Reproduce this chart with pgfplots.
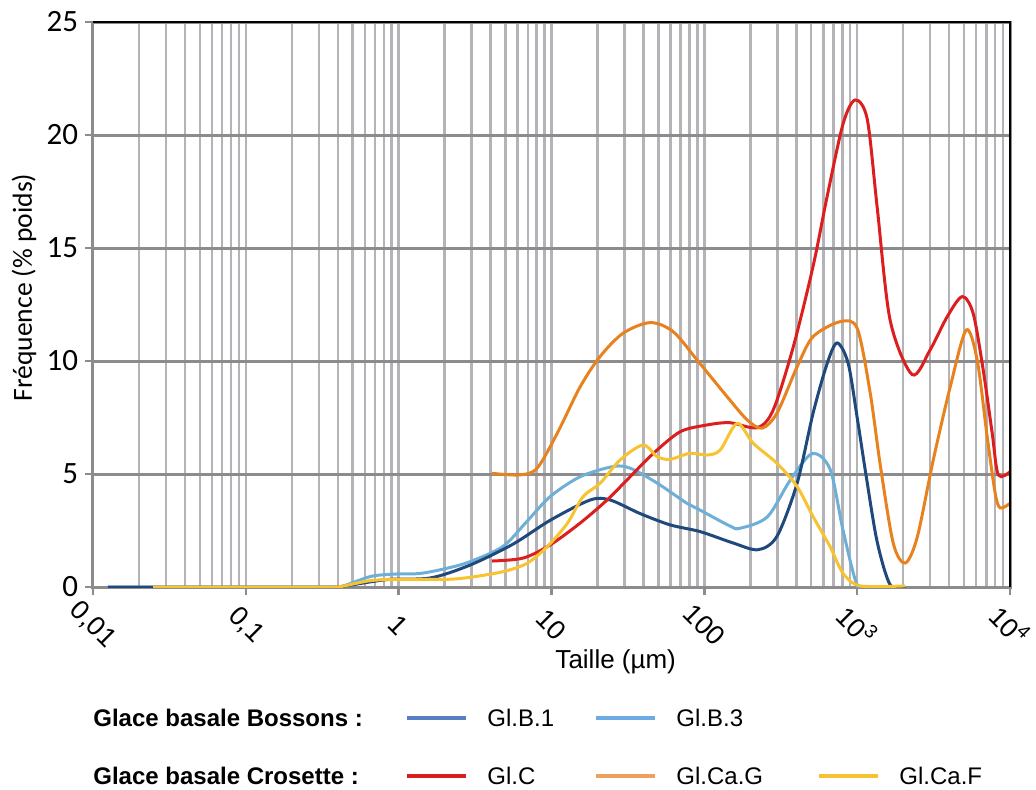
\documentclass[border=0pt]{standalone}
\usepackage{pgfplots}
\pgfplotsset{compat=1.18}
\usepackage{fontspec}
\setmainfont{Liberation Sans}
\newfontfamily\calibri{Carlito}
\definecolor{cB1}{HTML}{1F497D}
\definecolor{cB3}{HTML}{6EAFD8}
\definecolor{cC}{HTML}{DC1E1E}
\definecolor{cCaG}{HTML}{E8821E}
\definecolor{cCaF}{HTML}{F8C331}
\definecolor{lB1}{HTML}{5B7DC4}
\definecolor{lB3}{HTML}{6CABE3}
\definecolor{lC}{HTML}{D62020}
\definecolor{lCaG}{HTML}{F0A05E}
\definecolor{lCaF}{HTML}{F6C232}
\definecolor{gridlight}{HTML}{B4B4B8}
\definecolor{griddark}{HTML}{8C8C8C}
\begin{document}
\begin{tikzpicture}
\useasboundingbox (-46.5pt,-101pt) rectangle (471.5pt,293.5pt);
\begin{axis}[
  at={(0,0)}, anchor=south west,
  scale only axis, width=458.5pt, height=282.5pt,
  xmode=log, log basis x=10,
  xmin=0.01, xmax=10000, ymin=0, ymax=25,
  xtick={0.01,0.1,1,10,100,1000,10000},
  xticklabels={{0,01},{0,1},{1},{10},{100},{10\textsuperscript{3}},{10\textsuperscript{4}}},
  minor xtick={0.02,0.03,0.04,0.05,0.06,0.07,0.08,0.09,0.2,0.3,0.4,0.5,0.6,0.7,0.8,0.9,2,3,4,5,6,7,8,9,20,30,40,50,60,70,80,90,200,300,400,500,600,700,800,900,2000,3000,4000,5000,6000,7000,8000,9000},
  ytick={0,5,10,15,20,25},
  xmajorgrids, xminorgrids, ymajorgrids,
  major x grid style={draw=gridlight, line width=1.25pt},
  minor x grid style={draw=gridlight, line width=1.25pt},
  major y grid style={draw=griddark, line width=1.5pt},
  axis line style={draw=griddark, line width=1.5pt},
  tick align=outside, major tick length=4pt, minor tick length=0pt,
  every tick/.style={draw=griddark, line width=1.25pt},
  xtick pos=bottom, ytick pos=left,
  /pgf/number format/assume math mode=true,
  yticklabel style={font=\calibri\fontsize{15.5}{17}\selectfont},
  xticklabel style={font=\fontsize{13.5}{15}\selectfont, rotate=-45, anchor=center},
  xticklabel shift=15pt,
  xlabel={Taille (µm)},
  xlabel style={font=\fontsize{13}{15}\selectfont, at={(axis description cs:0.570,-0.133)}, anchor=center},
  ylabel={Fréquence (\% poids)},
  ylabel style={font=\calibri\fontsize{13.8}{15}\selectfont, at={(axis description cs:-0.0752,0.53)}, anchor=center},
  every axis plot/.append style={line width=1.5pt, smooth, no markers},
]
% Gl.B.3
\addplot[cB3] table {
x y
0.0125 0
0.30 0
0.41 0
0.65 0.46
0.92 0.57
1.38 0.60
2.07 0.83
2.93 1.12
4.82 1.80
6.9 2.9
9.79 4.0
15.4 4.88
25.3 5.33
32.7 5.26
49.1 4.6
77.1 3.7
94.0 3.4
147 2.7
171 2.6
258 3.1
365 4.73
508 5.9
666 5.2
809 2.5
1000 0.1
1216 0
};
% Gl.B.1
\addplot[cB1] table {
x y
0.0125 0
0.30 0
0.40 0
0.84 0.33
1.61 0.40
2.93 0.97
5.61 1.9
9.79 2.95
17.9 3.85
24.2 3.85
38.0 3.25
59.7 2.75
94.0 2.45
154 1.95
225 1.65
299 2.25
405 4.6
515 7.7
637 9.9
740 10.8
873 9.9
1000 7.5
1146 4.9
1352 2.0
1644 0.1
2061 0
};
% Gl.C
\addplot[cC] table {
x y
4.08 1.15
6.52 1.28
9.79 1.86
15.4 2.83
23.1 3.85
32.7 4.88
46.2 5.9
69.5 6.87
104 7.17
147 7.27
222 7.05
282 7.83
381 10.6
515 14.2
637 17.3
809 20.5
970 21.55
1164 20.7
1352 16.8
1644 11.8
2291 9.4
3006 10.5
3882 11.96
4867 12.85
5744 12.1
6680 9.6
7650 6.8
8377 4.96
10000 5.1
};
% Gl.Ca.G
\addplot[cCaG] table {
x y
4.08 5.03
6.22 4.96
8.05 5.26
10.9 6.8
15.4 8.86
20.8 10.2
29.4 11.23
44.2 11.7
62.5 11.3
89.8 10.04
141 8.42
191 7.39
239 7.03
299 7.7
405 9.75
515 11.08
774 11.74
1000 11.45
1216 8.6
1416 5.4
1722 1.94
2061 1.06
2471 2.2
3142 5.6
4064 8.86
5168 11.37
6100 10.04
7092 6.65
8000 4.15
8630 3.5
10000 3.7
};
% Gl.Ca.F
\addplot[cCaF] table {
x y
0.0247 0
0.30 0
0.40 0
0.65 0.28
1.02 0.34
2.07 0.34
2.93 0.43
4.82 0.68
6.92 1.05
9.36 1.78
12.7 2.82
16.1 4.0
20.8 4.59
28.1 5.62
39.7 6.28
49.1 5.77
59.7 5.65
80.7 5.92
104 5.84
127 6.06
164 7.24
209 6.36
299 5.47
405 4.44
515 3.11
666 1.78
809 0.6
1047 0.05
2061 0.05
};
\end{axis}
\draw[black, line width=1.25pt] (0pt,282.5pt) -- (458.5pt,282.5pt) -- (458.5pt,0pt);
% legend
\begin{scope}[every node/.style={inner sep=0pt, anchor=west, font=\fontsize{12}{14}\selectfont}]
\node[font=\bfseries\fontsize{12}{14}\selectfont] at (0pt,-65.5pt) {Glace basale Bossons :};
\draw[lB1, line width=2pt] (157pt,-65.5pt) -- (186.5pt,-65.5pt);
\node at (197pt,-65.5pt) {Gl.B.1};
\draw[lB3, line width=2pt] (251.5pt,-65.5pt) -- (281pt,-65.5pt);
\node at (291.5pt,-65.5pt) {Gl.B.3};
\node[font=\bfseries\fontsize{12}{14}\selectfont] at (0pt,-94.5pt) {Glace basale Crosette :};
\draw[lC, line width=2pt] (157pt,-94.5pt) -- (186.5pt,-94.5pt);
\node at (197pt,-94.5pt) {Gl.C};
\draw[lCaG, line width=2pt] (251.5pt,-94.5pt) -- (281pt,-94.5pt);
\node at (291.5pt,-94.5pt) {Gl.Ca.G};
\draw[lCaF, line width=2pt] (363pt,-94.5pt) -- (392.5pt,-94.5pt);
\node at (403pt,-94.5pt) {Gl.Ca.F};
\end{scope}
\end{tikzpicture}
\end{document}
